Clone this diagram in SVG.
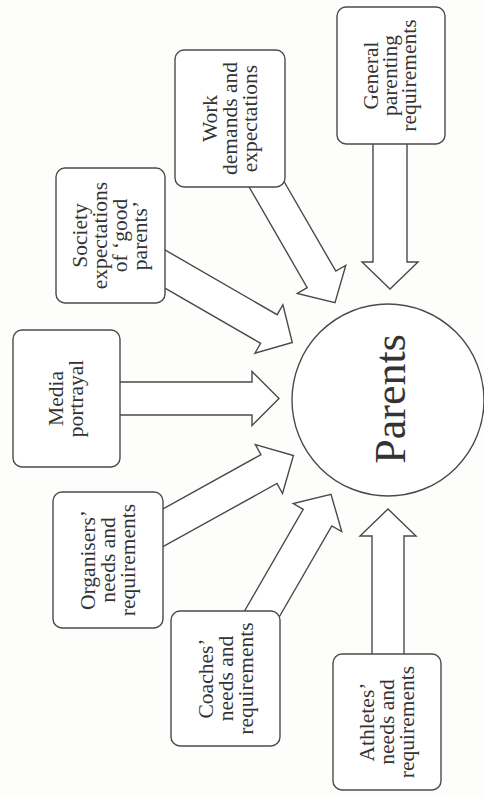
<svg xmlns="http://www.w3.org/2000/svg" width="484" height="798" viewBox="0 0 484 798">
<style>
.box{fill:#ffffff;stroke:#4a4a4a;stroke-width:1.4}
.arr{fill:#ffffff;stroke:#4a4a4a;stroke-width:1.4;stroke-linejoin:miter}
.lbl{font-family:"Liberation Serif","Times New Roman",serif;font-size:21.5px;fill:#333333;text-anchor:middle}
.big{font-family:"Liberation Serif","Times New Roman",serif;font-size:44px;fill:#333333;text-anchor:middle}
</style>
<rect width="484" height="798" fill="#fdfdfc"/>
<g id="connectors">
<polyline class="arr" transform="translate(390,130) rotate(90)" points="0,-17 132,-17 132,-28 159,0 132,28 132,17 0,17"/>
<polyline class="arr" transform="translate(388,670) rotate(-90)" points="0,-16 134,-16 134,-28 161,0 134,28 134,16 0,16"/>
<polyline class="arr" transform="translate(105,398.5) rotate(0)" points="0,-16.5 147,-16.5 147,-27 174,0 147,27 147,16.5 0,16.5"/>
<polyline class="arr" transform="translate(152,261.5) rotate(30)" points="0,-16.5 135,-16.5 135,-28 162,0 135,28 135,16.5 0,16.5"/>
<polyline class="arr" transform="translate(259.5,172) rotate(60)" points="0,-16.5 124,-16.5 124,-28 151,0 124,28 124,16.5 0,16.5"/>
<polyline class="arr" transform="translate(150,535) rotate(-29)" points="0,-16.5 136,-16.5 136,-28 164,0 136,28 136,16.5 0,16.5"/>
<polyline class="arr" transform="translate(255.5,625) rotate(-60)" points="0,-16.5 124,-16.5 124,-28 151,0 124,28 124,16.5 0,16.5"/>
</g>
<g id="general">
<rect class="box" x="337" y="7" width="108" height="137" rx="9"/>
<text class="lbl" transform="translate(391,75.5) rotate(-90)"><tspan x="0" y="-13">General</tspan><tspan x="0" y="6">parenting</tspan><tspan x="0" y="25">requirements</tspan></text>
</g>
<g id="work">
<rect class="box" x="175" y="50" width="110" height="137" rx="9"/>
<text class="lbl" transform="translate(230,118.5) rotate(-90)"><tspan x="0" y="-13">Work</tspan><tspan x="0" y="7">demands and</tspan><tspan x="0" y="27">expectations</tspan></text>
</g>
<g id="society">
<rect class="box" x="56" y="168" width="109" height="135" rx="9"/>
<text class="lbl" transform="translate(110.5,235.5) rotate(-90)"><tspan x="0" y="-24">Society</tspan><tspan x="0" y="-4">expectations</tspan><tspan x="0" y="16">of ‘good</tspan><tspan x="0" y="36">parents’</tspan></text>
</g>
<g id="media">
<rect class="box" x="13" y="330" width="107" height="137" rx="9"/>
<text class="lbl" transform="translate(66.5,398.5) rotate(-90)"><tspan x="0" y="-4">Media</tspan><tspan x="0" y="16">portrayal</tspan></text>
</g>
<g id="organisers">
<rect class="box" x="53" y="492" width="110" height="136" rx="9"/>
<text class="lbl" transform="translate(108,560) rotate(-90)"><tspan x="0" y="-13">Organisers’</tspan><tspan x="0" y="7">needs and</tspan><tspan x="0" y="27">requirements</tspan></text>
</g>
<g id="coaches">
<rect class="box" x="171" y="611" width="109" height="135" rx="9"/>
<text class="lbl" transform="translate(225.5,678.5) rotate(-90)"><tspan x="0" y="-13">Coaches’</tspan><tspan x="0" y="7">needs and</tspan><tspan x="0" y="27">requirements</tspan></text>
</g>
<g id="athletes">
<rect class="box" x="333" y="654" width="108" height="136" rx="9"/>
<text class="lbl" transform="translate(387,722) rotate(-90)"><tspan x="0" y="-13">Athletes’</tspan><tspan x="0" y="7">needs and</tspan><tspan x="0" y="27">requirements</tspan></text>
</g>
<g id="parents">
<circle class="box" cx="388" cy="400" r="96"/>
<text class="big" transform="translate(389,399) rotate(-90)" x="0" y="16">Parents</text>
</g>
</svg>
